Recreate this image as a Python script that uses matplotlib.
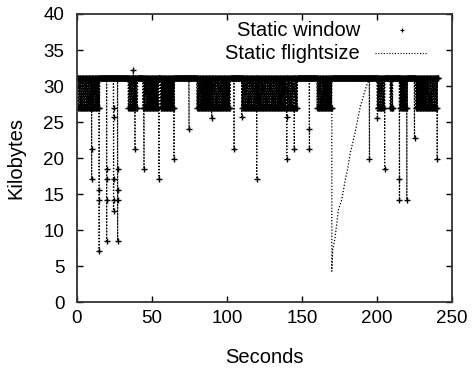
import numpy as np
import matplotlib
matplotlib.use('Agg')
import matplotlib.pyplot as plt

plt.rcParams['font.family'] = ['Liberation Sans', 'DejaVu Sans']

# window levels (KB)
HIGH = 31.1
LOW = 26.9
STEP = 0.25       # sample spacing, seconds
END = 240.7

# intervals where window flips between HIGH and LOW
blocks = [(0.7, 15.0), (34.0, 40.5), (44.0, 54.0), (55.5, 65.0), (80.0, 102.0),
          (110.0, 147.0), (160.0, 170.0), (200.0, 205.0), (208.7, 210.7),
          (215.3, 220.0), (225.3, 240.0)]

# single drops: time -> values reached
dip_times = [9.8, 14.8, 19.8, 24.4, 27.1, 37.6, 38.7, 44.7, 54.7, 64.7, 74.7,
             89.8, 104.7, 109.8, 119.8, 139.8, 144.8, 154.9, 194.9, 200.2,
             205.0, 209.8, 214.9, 219.8, 224.9, 240.0]
dip_values = [[21.2, 17.1], [15.6, 14.2, 7.1], [18.5, 17.1, 14.2, 8.5],
              [26.9, 25.7, 17.1, 14.2, 12.7], [18.5, 15.6, 14.2, 8.5], [32.2],
              [21.3], [18.5], [17.1], [19.9], [24.0], [25.5], [21.2], [25.7],
              [17.1], [25.7, 19.9], [21.2], [24.0, 21.2], [19.9], [25.5],
              [18.5], [26.9], [17.1, 14.2], [14.2], [22.8], [19.9]]

# flightsize recovery after the drop at ~170 s
ramp_t = [169.8, 169.8, 170.4, 172.0, 174.2, 176.4, 178.7, 180.2, 182.0,
          185.3, 188.7, 192.0, 194.2]
ramp_v = [HIGH, 4.3, 7.2, 9.0, 12.8, 14.2, 16.9, 18.3, 20.6, 23.5, 27.1,
          29.4, 30.8]

# build window series
wt, wv = [], []
dips = dict(zip(dip_times, dip_values))
grid = np.arange(0, END, STEP)
k = 0
for t in grid:
    inb = any(a <= t <= b for a, b in blocks)
    if inb:
        wt.append(t)
        wv.append(LOW if k % 2 else HIGH)
        k += 1
    else:
        wt.append(t)
        wv.append(HIGH)
    for d in dip_times:
        if t <= d < t + STEP:
            vals = sorted(dips[d], reverse=True)
            if vals[0] > HIGH:
                vals = vals[:1] + [HIGH] + vals[1:]
            for v in vals:
                wt.append(d)
                wv.append(v)
            wt.append(d)
            wv.append(HIGH)
wt = np.array(wt)
wv = np.array(wv)

# flightsize follows window except at start and during the ramp
mask_before = wt < ramp_t[0]
mask_after = wt > ramp_t[-1]
ft = np.concatenate([[0.0], wt[mask_before], ramp_t, wt[mask_after]])
fv = np.concatenate([[0.0], wv[mask_before], ramp_v, wv[mask_after]])

fig = plt.figure(figsize=(4.72, 3.68), dpi=100)
ax = fig.add_axes([0.163, 0.179, 0.795, 0.783])

ax.plot(ft, fv, color='black', linestyle=(0, (1, 1.5)), linewidth=0.9)
ax.plot(wt, wv, linestyle='none', marker='+', color='black',
        markersize=3.8, markeredgewidth=1.0)

ax.set_xlim(0, 250)
ax.set_ylim(0, 40)
ax.set_xticks(range(0, 251, 50))
ax.set_yticks(range(0, 41, 5))
ax.tick_params(direction='in', length=4, width=1, top=True, right=True,
               labelsize=13.5, colors='black')
ax.tick_params(axis='x', pad=6)
ax.tick_params(axis='y', pad=9)
for s in ax.spines.values():
    s.set_linewidth(1.3)
    s.set_color('#333333')
ax.set_xlabel('Seconds', fontsize=14.5, labelpad=15)
ax.set_ylabel('Kilobytes', fontsize=14.5, labelpad=13)

# gnuplot-style key
ax.text(0.755, 0.944, 'Static window', transform=ax.transAxes, ha='right',
        va='center', fontsize=14.5)
ax.text(0.755, 0.862, 'Static flightsize', transform=ax.transAxes, ha='right',
        va='center', fontsize=14.5)
ax.plot([0.866], [0.944], transform=ax.transAxes, marker='+', color='black',
        markersize=2.8, markeredgewidth=0.8, linestyle='none')
ax.plot([0.795, 0.933], [0.866, 0.866], transform=ax.transAxes, color='black',
        linestyle=(0, (1, 1.5)), linewidth=0.8)

fig.savefig('out.png', dpi=100)
